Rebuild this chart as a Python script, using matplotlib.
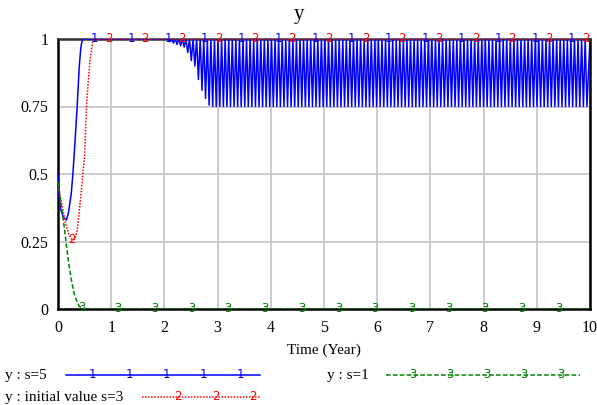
import numpy as np
import matplotlib
matplotlib.use("Agg")
import matplotlib.pyplot as plt
from matplotlib.lines import Line2D

plt.rcParams['font.family'] = ['Liberation Serif', 'DejaVu Serif']

# smooth part of each run (time in years, value)
s5_t = [0, 0.02, 0.05, 0.1, 0.16, 0.2, 0.25, 0.28, 0.32, 0.36, 0.4, 0.43, 0.46, 10]
s5_y = [0.50, 0.42, 0.37, 0.34, 0.33, 0.36, 0.43, 0.50, 0.62, 0.75, 0.90, 0.97, 1.0, 1.0]

s3_t = [0, 0.05, 0.1, 0.15, 0.2, 0.25, 0.28, 0.32, 0.36, 0.42, 0.5, 0.54, 0.6, 0.66, 10]
s3_y = [0.47, 0.41, 0.36, 0.31, 0.28, 0.26, 0.255, 0.26, 0.29, 0.40, 0.57, 0.77, 0.92, 1.0, 1.0]

s1_t = [0, 0.05, 0.1, 0.15, 0.2, 0.25, 0.3, 0.35, 0.4, 0.5, 10]
s1_y = [0.47, 0.40, 0.33, 0.25, 0.17, 0.11, 0.06, 0.03, 0.01, 0.0, 0.0]

# s=5 oscillation after t~2: troughs of each cycle
osc_start = 2.07
osc_period = 0.067
osc_ramp = [0.99, 0.985, 0.98, 0.975, 0.97, 0.95, 0.92, 0.90, 0.85, 0.81, 0.78, 0.755]
osc_floor = 0.75

# number-marker positions along each run
mark_step = 0.69
mark_start = {'1': 0.69, '2': 0.26, '3': 0.44}

x_ticks = list(range(0, 11))
y_ticks = [0, 0.25, 0.5, 0.75, 1]
y_labels = ['0', '0.25', '0.5', '0.75', '1']

blue = '#0000ff'
red = '#ff0000'
green = '#008000'

# build s=5 line with the oscillation
bt = [t for t in s5_t if t < osc_start]
by = [y for t, y in zip(s5_t, s5_y) if t < osc_start]
n_cycles = int((10 - osc_start) / osc_period)
troughs = osc_ramp + [osc_floor] * (n_cycles - len(osc_ramp))
for i, tr in enumerate(troughs):
    t0 = osc_start + i * osc_period
    bt += [t0, t0 + osc_period / 2]
    by += [1.0, tr]
bt.append(10)
by.append(1.0)

fig = plt.figure(figsize=(5.97, 4.05), dpi=100)
ax = fig.add_axes([58 / 597, 96 / 405, 532 / 597, 270 / 405])

ax.plot(bt, by, color=blue, lw=1.1, zorder=3)
ax.plot(s3_t, s3_y, color=red, lw=1.1, ls=(0, (1, 1)), zorder=4)
ax.plot(s1_t, s1_y, color=green, lw=1.1, ls=(0, (3, 1.5)), zorder=4)

for key, tt, yy, col in [('1', s5_t, s5_y, blue), ('2', s3_t, s3_y, red), ('3', s1_t, s1_y, green)]:
    for tm in np.arange(mark_start[key], 10, mark_step):
        ax.text(tm, np.interp(tm, tt, yy), key, color=col, fontsize=8.5,
                family='DejaVu Sans', ha='center', va='center', zorder=5)

ax.set_xlim(0, 10)
ax.set_ylim(0, 1)
ax.set_xticks(x_ticks)
ax.set_yticks(y_ticks)
ax.set_yticklabels(y_labels)
ax.tick_params(length=0, labelsize=11.5)
ax.tick_params(axis='x', pad=8)
ax.tick_params(axis='y', pad=7)
ax.grid(True, color='#c8c8c8', lw=1.3)
ax.set_axisbelow(True)
for sp in ax.spines.values():
    sp.set_linewidth(1.8)
    sp.set_color('black')
ax.spines['top'].set_color('#333333')
ax.set_xlabel('Time (Year)', fontsize=11, labelpad=5)
fig.text(298.5 / 597, 1 - 15 / 405, 'y', fontsize=15, ha='center', va='center')

# legend in pixel space below the plot
lg = fig.add_axes([0, 0, 1, 1], zorder=-1)
lg.set_xlim(0, 597)
lg.set_ylim(405, 0)
lg.axis('off')
rows = [
    ('y : s=5', 5, 375, 66, 260, blue, '-', '1', [92, 129, 166, 203, 240]),
    ('y : initial value s=3', 5, 397, 142, 260, red, (0, (1, 1)), '2', [178, 216, 253]),
    ('y : s=1', 327, 375, 386, 580, green, (0, (3, 1.5)), '3', [413, 450, 487, 524, 561]),
]
for label, lx, ly, x0, x1, col, ls, key, marks in rows:
    lg.text(lx, ly, label, fontsize=11, va='center', ha='left')
    lg.add_line(Line2D([x0, x1], [ly, ly], color=col, lw=1.1, ls=ls))
    for mx in marks:
        lg.text(mx, ly, key, color=col, fontsize=8.5, family='DejaVu Sans',
                ha='center', va='center')

fig.savefig('out.png', dpi=100)
